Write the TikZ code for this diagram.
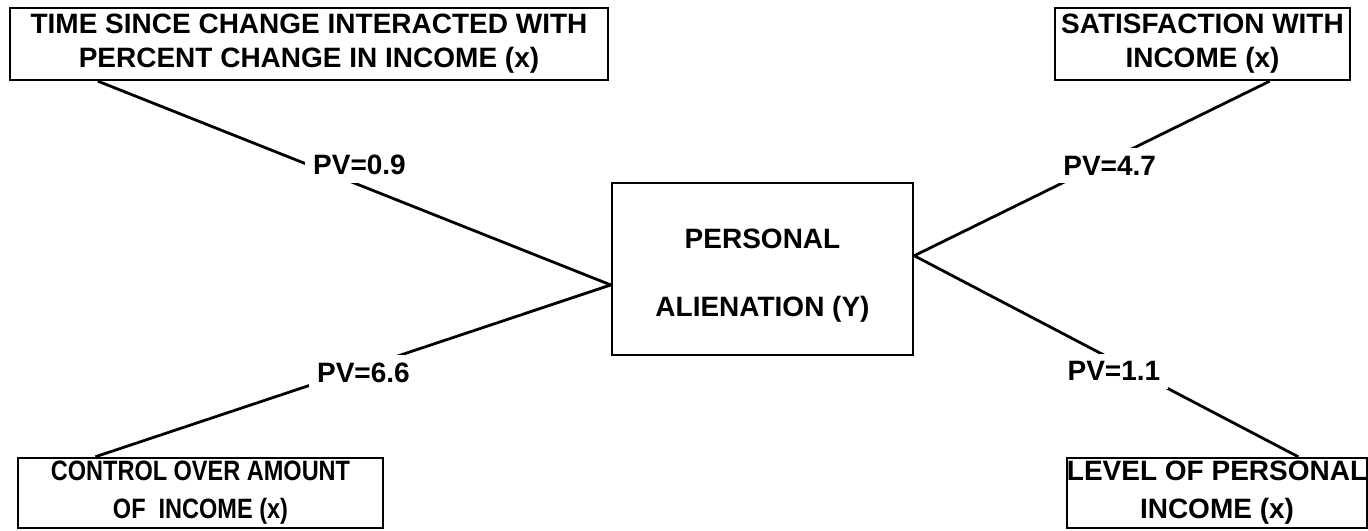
\documentclass[tikz,border=0pt]{standalone}
\usepackage{fontspec}
\setmainfont{Liberation Sans}
\newfontfamily\narrowsans[FakeStretch=0.84]{Liberation Sans}
\usepackage{tikz}

\begin{document}
\begin{tikzpicture}[
  x=0.5pt, y=-0.5pt,
  var/.style={draw,line width=1.2pt,inner sep=0pt,align=center,
    font=\bfseries\fontsize{14}{17}\selectfont},
  link/.style={line width=1.4pt},
  pv/.style={fill=white,inner sep=4pt,font=\bfseries\fontsize{14}{16}\selectfont}
]
  \useasboundingbox (0,0) rectangle (1368,530);

  \node[var,minimum width=299pt,minimum height=36pt] (tc) at (309,44)
    {TIME SINCE CHANGE INTERACTED WITH\\PERCENT CHANGE IN INCOME (x)};
  \node[var,minimum width=147.5pt,minimum height=36pt] (sat) at (1202.5,44)
    {SATISFACTION WITH\\INCOME (x)};
  \node[var,minimum width=150.5pt,minimum height=86pt,
    font=\bfseries\fontsize{14}{34}\selectfont] (pa) at (762.5,269)
    {\rule{0pt}{16pt}PERSONAL\\ALIENATION (Y)};
  \node[var,minimum width=182.5pt,minimum height=35pt,
    font=\narrowsans\bfseries\fontsize{14}{19}\selectfont] (ctl) at (200.5,493)
    {CONTROL OVER AMOUNT\\OF\ \ INCOME (x)};
  \node[var,minimum width=149pt,minimum height=35pt,
    font=\bfseries\fontsize{14}{19}\selectfont] (lev) at (1217,493)
    {LEVEL OF PERSONAL\\INCOME (x)};

  % links to the outcome box
  \draw[link] (tc.190) -- node[pv,pos=.51,yshift=10pt] {PV=0.9} (pa.186);
  \draw[link] (ctl.161) -- node[pv,pos=.52,yshift=-2.5pt] {PV=6.6} (pa.186);
  \draw[link] (sat.331) -- node[pv,pos=.45,yshift=-3pt] {PV=4.7} (pa.5);
  \draw[link] (lev.24) -- node[pv,pos=.48,yshift=-5.5pt] {PV=1.1} (pa.5);
\end{tikzpicture}
\end{document}
